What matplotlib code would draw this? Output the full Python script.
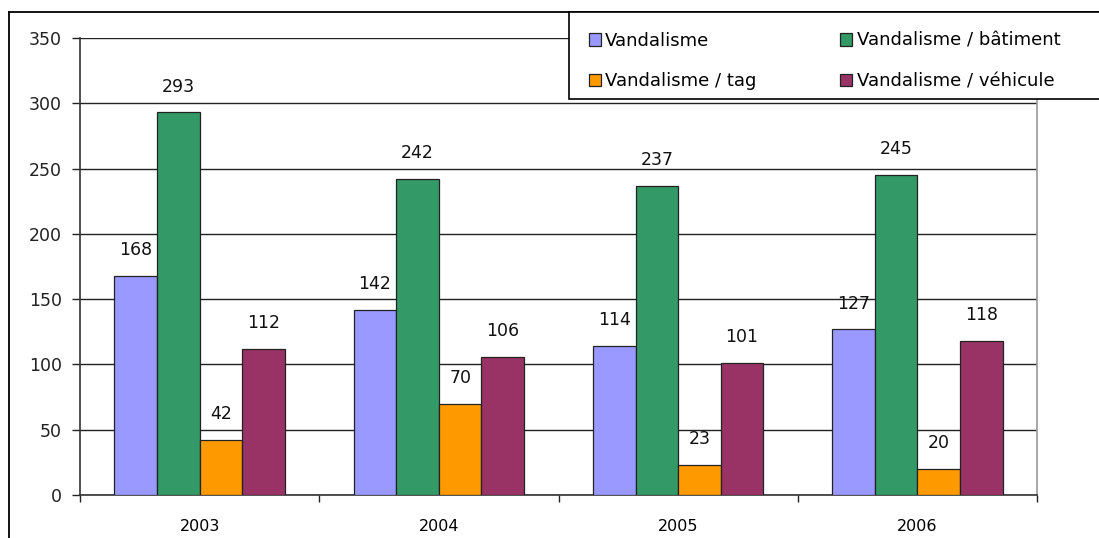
import matplotlib
matplotlib.use("Agg")
import matplotlib.pyplot as plt
import numpy as np
from matplotlib.lines import Line2D
from matplotlib.patches import Rectangle

years = ["2003", "2004", "2005", "2006"]
series_names = ["Vandalisme", "Vandalisme / bâtiment", "Vandalisme / tag", "Vandalisme / véhicule"]
vandalisme = [168, 142, 114, 127]
batiment = [293, 242, 237, 245]
tag = [42, 70, 23, 20]
vehicule = [112, 106, 101, 118]
colors = ["#9999FF", "#339966", "#FF9900", "#993366"]

W, H = 1099, 538
fig = plt.figure(figsize=(W / 100, H / 100), dpi=100)
ax = fig.add_axes([80 / W, 1 - 495 / H, (1037 - 80) / W, (495 - 38) / H])

x = np.arange(len(years))
bw = 0.178
data = [vandalisme, batiment, tag, vehicule]
bars = []
for i, (vals, c, name) in enumerate(zip(data, colors, series_names)):
    b = ax.bar(x + (i - 1.5) * bw, vals, bw, color=c, edgecolor="#222222",
               linewidth=0.9, label=name, zorder=3)
    ax.bar_label(b, labels=[str(v) for v in vals], padding=12, fontsize=12.5,
                 color="#111111", zorder=4)
    bars.append(b)

ax.set_xlim(-0.5, len(years) - 0.5)
ax.set_ylim(0, 350)
ax.set_yticks(np.arange(0, 351, 50))
ax.yaxis.grid(True, color="#222222", linewidth=1.0, zorder=0)
ax.set_axisbelow(True)
ax.tick_params(axis="y", length=6, width=1, pad=7, labelsize=12.5, colors="#222222")
ax.set_xticks(x)
ax.set_xticklabels(years, fontsize=11.5)
ax.tick_params(axis="x", which="major", length=0, pad=17)
ax.set_xticks(np.arange(-0.5, len(years), 1.0), minor=True)
ax.tick_params(axis="x", which="minor", length=5, width=1, color="#222222")

ax.spines["top"].set_visible(False)
ax.spines["left"].set_color("#333333")
ax.spines["left"].set_linewidth(1.2)
ax.spines["bottom"].set_color("#333333")
ax.spines["bottom"].set_linewidth(1.2)
ax.spines["right"].set_color("#999999")
ax.spines["right"].set_linewidth(1.2)

# outer chart border
fig.add_artist(Line2D([9 / W, 9 / W], [0, 1 - 12 / H], transform=fig.transFigure,
                      color="black", linewidth=1.3))
fig.add_artist(Line2D([9 / W, 1], [1 - 12 / H, 1 - 12 / H], transform=fig.transFigure,
                      color="black", linewidth=1.3))

# legend box
fig.add_artist(Rectangle((569 / W, 1 - 99 / H), (1110 - 569) / W, (99 - 12) / H,
                         transform=fig.transFigure, facecolor="white",
                         edgecolor="black", linewidth=1.2, zorder=5))

handles = [bars[0], bars[2], bars[1], bars[3]]
labels = [series_names[0], series_names[2], series_names[1], series_names[3]]
leg = fig.legend(handles, labels, loc="upper left",
                 bbox_to_anchor=(569 / W, 1 - 12 / H), ncol=2, fontsize=13,
                 frameon=False,
                 handlelength=0.65, handleheight=0.65, handletextpad=0.25,
                 labelspacing=1.25, columnspacing=4.65, borderpad=1.1,
                 borderaxespad=0)
leg.set_zorder(10)

fig.savefig("out.png", dpi=100)
